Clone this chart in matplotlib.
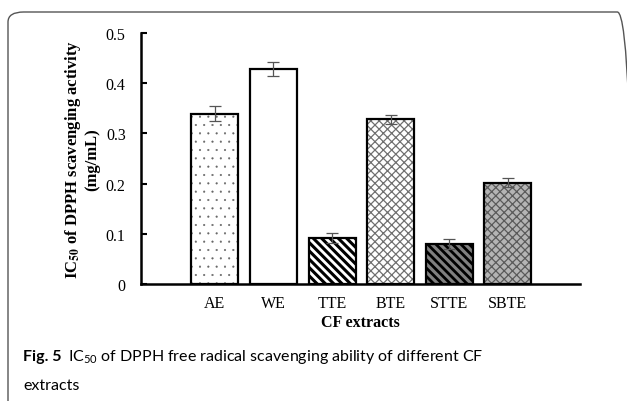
import numpy as np
import matplotlib
matplotlib.use('Agg')
import matplotlib.pyplot as plt
from matplotlib.patches import FancyBboxPatch

# data
extracts = ['AE', 'WE', 'TTE', 'BTE', 'STTE', 'SBTE']
ic50 = [0.339, 0.429, 0.092, 0.328, 0.080, 0.202]
ic50_err = [0.015, 0.014, 0.010, 0.009, 0.010, 0.009]

# fill, hatch, hatch colour, hatch width for each bar
faces = ['white', 'white', 'white', 'white', '#808080', '#b4b4b4']
hatches = ['..', '', '\\\\\\\\', 'xxxx', '\\\\\\\\', 'xxxx']
hatch_colors = ['#666666', 'black', 'black', '#707070', 'black', '#5a5a5a']
hatch_widths = [0.3, 1.0, 2.2, 0.9, 2.0, 0.9]

plt.rcParams['mathtext.fontset'] = 'custom'
plt.rcParams['mathtext.rm'] = 'Lato'

fig = plt.figure(figsize=(6.27, 4.02), dpi=100)

# rounded frame around the figure
frame = FancyBboxPatch((8 / 627, -0.05), 625 / 627, 0.05 + 389 / 402,
                       boxstyle='round,pad=0,rounding_size=0.025',
                       transform=fig.transFigure, facecolor='none',
                       edgecolor='#555555', linewidth=1.0, clip_on=False)
fig.patches.append(frame)

ax = fig.add_axes([141 / 627, 1 - 285 / 402, 439 / 627, 251 / 402])

x = np.arange(1, len(extracts) + 1)
for i in range(len(extracts)):
    with plt.rc_context({'hatch.linewidth': hatch_widths[i]}):
        b = ax.bar(x[i], ic50[i], width=0.8, color=faces[i], hatch=hatches[i],
                   edgecolor=hatch_colors[i], linewidth=0, zorder=2)
    for p in b:
        if hasattr(p, 'set_hatch_linewidth'):
            p.set_hatch_linewidth(hatch_widths[i])
ax.bar(x, ic50, width=0.8, facecolor='none', edgecolor='black', linewidth=1.6, zorder=3)
ax.errorbar(x, ic50, yerr=ic50_err, fmt='none', ecolor='#555555',
            elinewidth=0.9, capsize=4, capthick=0.9, zorder=4)

ax.set_xlim(-0.26, 7.23)
ax.set_ylim(0, 0.5)
ax.set_yticks([0, 0.1, 0.2, 0.3, 0.4, 0.5])
ax.set_yticklabels(['0', '0.1', '0.2', '0.3', '0.4', '0.5'])
ax.set_xticks(x)
ax.set_xticklabels(extracts)

for s in ['top', 'right']:
    ax.spines[s].set_visible(False)
ax.spines['left'].set_linewidth(1.8)
ax.spines['bottom'].set_linewidth(1.8)
ax.tick_params(axis='y', direction='in', length=4, width=1.5, pad=11)
ax.tick_params(axis='x', length=0, pad=8)
for lab in ax.get_xticklabels() + ax.get_yticklabels():
    lab.set_fontfamily('Liberation Serif')
    lab.set_fontsize(11.5)

ax.set_xlabel('CF extracts', fontfamily='Liberation Serif', fontsize=11.5,
              fontweight='bold', labelpad=2)
ax.set_ylabel('IC$_{\\mathbf{50}}$ of DPPH scavenging activity\n(mg/mL)',
              fontfamily='Liberation Serif', fontsize=12, fontweight='bold',
              math_fontfamily='stix', linespacing=1.1, labelpad=4)

# caption
fig.canvas.draw()
r = fig.canvas.get_renderer()
t1 = fig.text(23 / 627, 1 - 361 / 402, 'Fig. 5', fontfamily='Lato',
              fontweight='bold', fontsize=11.5, va='baseline')
w = t1.get_window_extent(renderer=r).width
fig.text((23 + w + 7) / 627, 1 - 361 / 402,
         'IC$_{50}$ of DPPH free radical scavenging ability of different CF',
         fontfamily='Lato', fontsize=11.5, va='baseline', math_fontfamily='custom')
fig.text(23 / 627, 1 - 390 / 402, 'extracts', fontfamily='Lato',
         fontsize=11.5, va='baseline')

fig.savefig('out.png', dpi=100)
